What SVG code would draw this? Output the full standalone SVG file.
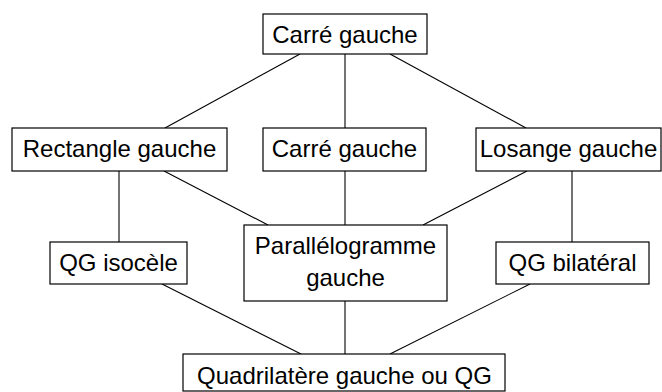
<svg xmlns="http://www.w3.org/2000/svg" width="662" height="392" viewBox="0 0 662 392">
<style>
rect{fill:#fff;stroke:#000;stroke-width:1.2}
text{font-family:"Liberation Sans",Arial,sans-serif;font-size:24px;fill:#000;text-anchor:middle}
#connectors line{stroke:#000;stroke-width:1.1}
</style>
<rect x="0" y="0" width="662" height="392" style="stroke:none"/>
<g id="connectors">
<line x1="300" y1="54" x2="165" y2="128"/>
<line x1="345" y1="54" x2="345" y2="128"/>
<line x1="390" y1="54" x2="526" y2="128"/>
<line x1="119" y1="171" x2="119" y2="242"/>
<line x1="164" y1="171" x2="268" y2="225"/>
<line x1="345" y1="171" x2="345" y2="225"/>
<line x1="527" y1="171" x2="423" y2="225"/>
<line x1="572" y1="171" x2="572" y2="242"/>
<line x1="162" y1="284" x2="301" y2="354"/>
<line x1="345" y1="301" x2="345" y2="354"/>
<line x1="530" y1="284" x2="390" y2="354"/>
</g>
<g id="n-carre-top"><rect x="263" y="14" width="164" height="40"/><text x="345" y="43">Carré gauche</text></g>
<g id="n-rectangle"><rect x="12" y="128" width="215" height="43"/><text x="119.5" y="157">Rectangle gauche</text></g>
<g id="n-carre-mid"><rect x="263" y="128" width="163" height="43"/><text x="344.5" y="157">Carré gauche</text></g>
<g id="n-losange"><rect x="476" y="128" width="185" height="43"/><text x="568.5" y="157">Losange gauche</text></g>
<g id="n-isocele"><rect x="50" y="242" width="137" height="42"/><text x="118.5" y="271">QG isocèle</text></g>
<g id="n-para"><rect x="244" y="225" width="203" height="76"/><text x="345.5" y="254">Parallélogramme</text><text x="345.5" y="286">gauche</text></g>
<g id="n-bilateral"><rect x="496" y="242" width="153" height="42"/><text x="572.5" y="271">QG bilatéral</text></g>
<g id="n-quad"><rect x="183" y="354" width="322" height="37"/><text x="344.5" y="384">Quadrilatère gauche ou QG</text></g>
</svg>
